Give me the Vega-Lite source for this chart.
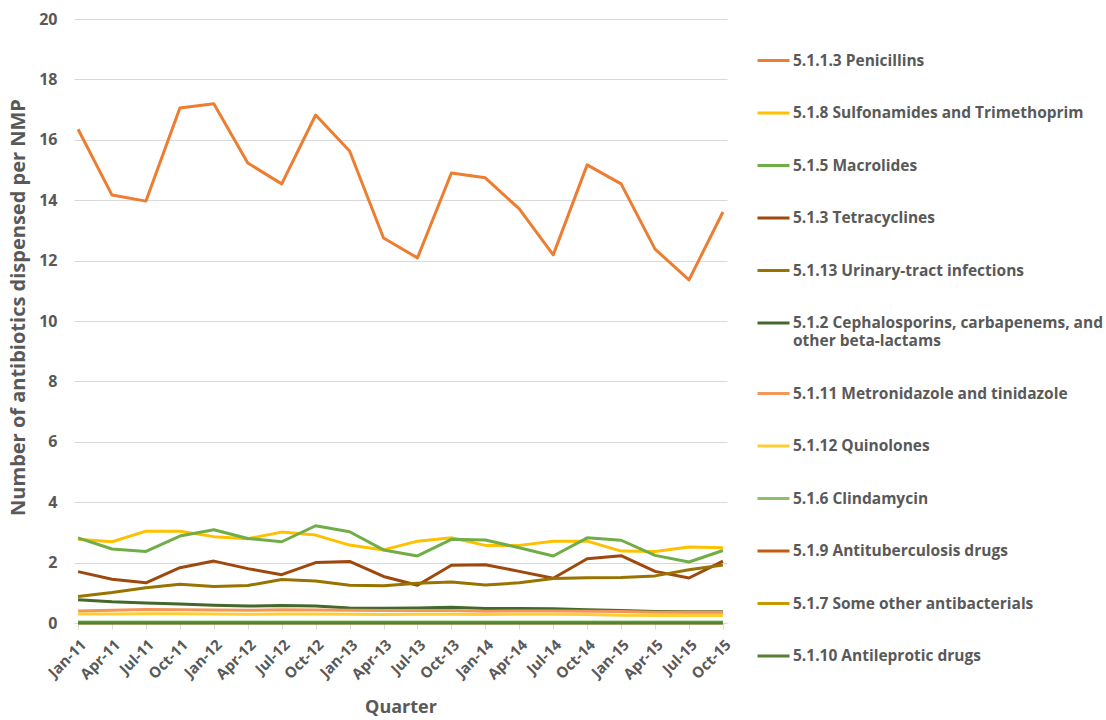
{
 "$schema": "https://vega.github.io/schema/vega-lite/v6.json",
 "width": 653, "height": 604,
 "autosize": "none",
 "padding": {"left": 74, "top": 19, "right": 379, "bottom": 97},
 "background": "white",
 "config": {"font": "Open Sans", "view": {"stroke": null}},
 "datasets": {"d": [
{"q":"Jan-11","s":"5.1.1.3 Penicillins","v":16.35},{"q":"Apr-11","s":"5.1.1.3 Penicillins","v":14.17},{"q":"Jul-11","s":"5.1.1.3 Penicillins","v":13.97},{"q":"Oct-11","s":"5.1.1.3 Penicillins","v":17.05},{"q":"Jan-12","s":"5.1.1.3 Penicillins","v":17.19},{"q":"Apr-12","s":"5.1.1.3 Penicillins","v":15.23},{"q":"Jul-12","s":"5.1.1.3 Penicillins","v":14.54},{"q":"Oct-12","s":"5.1.1.3 Penicillins","v":16.82},{"q":"Jan-13","s":"5.1.1.3 Penicillins","v":15.63},{"q":"Apr-13","s":"5.1.1.3 Penicillins","v":12.75},{"q":"Jul-13","s":"5.1.1.3 Penicillins","v":12.09},{"q":"Oct-13","s":"5.1.1.3 Penicillins","v":14.9},{"q":"Jan-14","s":"5.1.1.3 Penicillins","v":14.74},{"q":"Apr-14","s":"5.1.1.3 Penicillins","v":13.71},{"q":"Jul-14","s":"5.1.1.3 Penicillins","v":12.19},{"q":"Oct-14","s":"5.1.1.3 Penicillins","v":15.17},{"q":"Jan-15","s":"5.1.1.3 Penicillins","v":14.54},{"q":"Apr-15","s":"5.1.1.3 Penicillins","v":12.38},{"q":"Jul-15","s":"5.1.1.3 Penicillins","v":11.36},{"q":"Oct-15","s":"5.1.1.3 Penicillins","v":13.61},
{"q":"Jan-11","s":"5.1.8 Sulfonamides and Trimethoprim","v":2.77},{"q":"Apr-11","s":"5.1.8 Sulfonamides and Trimethoprim","v":2.69},{"q":"Jul-11","s":"5.1.8 Sulfonamides and Trimethoprim","v":3.04},{"q":"Oct-11","s":"5.1.8 Sulfonamides and Trimethoprim","v":3.04},{"q":"Jan-12","s":"5.1.8 Sulfonamides and Trimethoprim","v":2.86},{"q":"Apr-12","s":"5.1.8 Sulfonamides and Trimethoprim","v":2.79},{"q":"Jul-12","s":"5.1.8 Sulfonamides and Trimethoprim","v":3.01},{"q":"Oct-12","s":"5.1.8 Sulfonamides and Trimethoprim","v":2.91},{"q":"Jan-13","s":"5.1.8 Sulfonamides and Trimethoprim","v":2.58},{"q":"Apr-13","s":"5.1.8 Sulfonamides and Trimethoprim","v":2.42},{"q":"Jul-13","s":"5.1.8 Sulfonamides and Trimethoprim","v":2.71},{"q":"Oct-13","s":"5.1.8 Sulfonamides and Trimethoprim","v":2.82},{"q":"Jan-14","s":"5.1.8 Sulfonamides and Trimethoprim","v":2.57},{"q":"Apr-14","s":"5.1.8 Sulfonamides and Trimethoprim","v":2.57},{"q":"Jul-14","s":"5.1.8 Sulfonamides and Trimethoprim","v":2.71},{"q":"Oct-14","s":"5.1.8 Sulfonamides and Trimethoprim","v":2.71},{"q":"Jan-15","s":"5.1.8 Sulfonamides and Trimethoprim","v":2.38},{"q":"Apr-15","s":"5.1.8 Sulfonamides and Trimethoprim","v":2.37},{"q":"Jul-15","s":"5.1.8 Sulfonamides and Trimethoprim","v":2.52},{"q":"Oct-15","s":"5.1.8 Sulfonamides and Trimethoprim","v":2.49},
{"q":"Jan-11","s":"5.1.5 Macrolides","v":2.82},{"q":"Apr-11","s":"5.1.5 Macrolides","v":2.45},{"q":"Jul-11","s":"5.1.5 Macrolides","v":2.37},{"q":"Oct-11","s":"5.1.5 Macrolides","v":2.88},{"q":"Jan-12","s":"5.1.5 Macrolides","v":3.09},{"q":"Apr-12","s":"5.1.5 Macrolides","v":2.8},{"q":"Jul-12","s":"5.1.5 Macrolides","v":2.69},{"q":"Oct-12","s":"5.1.5 Macrolides","v":3.22},{"q":"Jan-13","s":"5.1.5 Macrolides","v":3.02},{"q":"Apr-13","s":"5.1.5 Macrolides","v":2.42},{"q":"Jul-13","s":"5.1.5 Macrolides","v":2.22},{"q":"Oct-13","s":"5.1.5 Macrolides","v":2.77},{"q":"Jan-14","s":"5.1.5 Macrolides","v":2.75},{"q":"Apr-14","s":"5.1.5 Macrolides","v":2.49},{"q":"Jul-14","s":"5.1.5 Macrolides","v":2.22},{"q":"Oct-14","s":"5.1.5 Macrolides","v":2.82},{"q":"Jan-15","s":"5.1.5 Macrolides","v":2.74},{"q":"Apr-15","s":"5.1.5 Macrolides","v":2.24},{"q":"Jul-15","s":"5.1.5 Macrolides","v":2.02},{"q":"Oct-15","s":"5.1.5 Macrolides","v":2.4},
{"q":"Jan-11","s":"5.1.3 Tetracyclines","v":1.7},{"q":"Apr-11","s":"5.1.3 Tetracyclines","v":1.45},{"q":"Jul-11","s":"5.1.3 Tetracyclines","v":1.33},{"q":"Oct-11","s":"5.1.3 Tetracyclines","v":1.83},{"q":"Jan-12","s":"5.1.3 Tetracyclines","v":2.05},{"q":"Apr-12","s":"5.1.3 Tetracyclines","v":1.8},{"q":"Jul-12","s":"5.1.3 Tetracyclines","v":1.6},{"q":"Oct-12","s":"5.1.3 Tetracyclines","v":2.0},{"q":"Jan-13","s":"5.1.3 Tetracyclines","v":2.04},{"q":"Apr-13","s":"5.1.3 Tetracyclines","v":1.54},{"q":"Jul-13","s":"5.1.3 Tetracyclines","v":1.25},{"q":"Oct-13","s":"5.1.3 Tetracyclines","v":1.91},{"q":"Jan-14","s":"5.1.3 Tetracyclines","v":1.93},{"q":"Apr-14","s":"5.1.3 Tetracyclines","v":1.71},{"q":"Jul-14","s":"5.1.3 Tetracyclines","v":1.48},{"q":"Oct-14","s":"5.1.3 Tetracyclines","v":2.13},{"q":"Jan-15","s":"5.1.3 Tetracyclines","v":2.23},{"q":"Apr-15","s":"5.1.3 Tetracyclines","v":1.71},{"q":"Jul-15","s":"5.1.3 Tetracyclines","v":1.49},{"q":"Oct-15","s":"5.1.3 Tetracyclines","v":2.05},
{"q":"Jan-11","s":"5.1.13 Urinary-tract infections","v":0.88},{"q":"Apr-11","s":"5.1.13 Urinary-tract infections","v":1.01},{"q":"Jul-11","s":"5.1.13 Urinary-tract infections","v":1.17},{"q":"Oct-11","s":"5.1.13 Urinary-tract infections","v":1.28},{"q":"Jan-12","s":"5.1.13 Urinary-tract infections","v":1.21},{"q":"Apr-12","s":"5.1.13 Urinary-tract infections","v":1.24},{"q":"Jul-12","s":"5.1.13 Urinary-tract infections","v":1.44},{"q":"Oct-12","s":"5.1.13 Urinary-tract infections","v":1.39},{"q":"Jan-13","s":"5.1.13 Urinary-tract infections","v":1.25},{"q":"Apr-13","s":"5.1.13 Urinary-tract infections","v":1.23},{"q":"Jul-13","s":"5.1.13 Urinary-tract infections","v":1.32},{"q":"Oct-13","s":"5.1.13 Urinary-tract infections","v":1.36},{"q":"Jan-14","s":"5.1.13 Urinary-tract infections","v":1.26},{"q":"Apr-14","s":"5.1.13 Urinary-tract infections","v":1.33},{"q":"Jul-14","s":"5.1.13 Urinary-tract infections","v":1.47},{"q":"Oct-14","s":"5.1.13 Urinary-tract infections","v":1.5},{"q":"Jan-15","s":"5.1.13 Urinary-tract infections","v":1.51},{"q":"Apr-15","s":"5.1.13 Urinary-tract infections","v":1.56},{"q":"Jul-15","s":"5.1.13 Urinary-tract infections","v":1.76},{"q":"Oct-15","s":"5.1.13 Urinary-tract infections","v":1.92},
{"q":"Jan-11","s":"5.1.2 Cephalosporins, carbapenems, and other beta-lactams","v":0.77},{"q":"Apr-11","s":"5.1.2 Cephalosporins, carbapenems, and other beta-lactams","v":0.7},{"q":"Jul-11","s":"5.1.2 Cephalosporins, carbapenems, and other beta-lactams","v":0.66},{"q":"Oct-11","s":"5.1.2 Cephalosporins, carbapenems, and other beta-lactams","v":0.63},{"q":"Jan-12","s":"5.1.2 Cephalosporins, carbapenems, and other beta-lactams","v":0.59},{"q":"Apr-12","s":"5.1.2 Cephalosporins, carbapenems, and other beta-lactams","v":0.56},{"q":"Jul-12","s":"5.1.2 Cephalosporins, carbapenems, and other beta-lactams","v":0.58},{"q":"Oct-12","s":"5.1.2 Cephalosporins, carbapenems, and other beta-lactams","v":0.56},{"q":"Jan-13","s":"5.1.2 Cephalosporins, carbapenems, and other beta-lactams","v":0.5},{"q":"Apr-13","s":"5.1.2 Cephalosporins, carbapenems, and other beta-lactams","v":0.49},{"q":"Jul-13","s":"5.1.2 Cephalosporins, carbapenems, and other beta-lactams","v":0.5},{"q":"Oct-13","s":"5.1.2 Cephalosporins, carbapenems, and other beta-lactams","v":0.52},{"q":"Jan-14","s":"5.1.2 Cephalosporins, carbapenems, and other beta-lactams","v":0.48},{"q":"Apr-14","s":"5.1.2 Cephalosporins, carbapenems, and other beta-lactams","v":0.48},{"q":"Jul-14","s":"5.1.2 Cephalosporins, carbapenems, and other beta-lactams","v":0.47},{"q":"Oct-14","s":"5.1.2 Cephalosporins, carbapenems, and other beta-lactams","v":0.44},{"q":"Jan-15","s":"5.1.2 Cephalosporins, carbapenems, and other beta-lactams","v":0.41},{"q":"Apr-15","s":"5.1.2 Cephalosporins, carbapenems, and other beta-lactams","v":0.38},{"q":"Jul-15","s":"5.1.2 Cephalosporins, carbapenems, and other beta-lactams","v":0.37},{"q":"Oct-15","s":"5.1.2 Cephalosporins, carbapenems, and other beta-lactams","v":0.37},
{"q":"Jan-11","s":"5.1.11 Metronidazole and tinidazole","v":0.4},{"q":"Apr-11","s":"5.1.11 Metronidazole and tinidazole","v":0.42},{"q":"Jul-11","s":"5.1.11 Metronidazole and tinidazole","v":0.45},{"q":"Oct-11","s":"5.1.11 Metronidazole and tinidazole","v":0.44},{"q":"Jan-12","s":"5.1.11 Metronidazole and tinidazole","v":0.43},{"q":"Apr-12","s":"5.1.11 Metronidazole and tinidazole","v":0.42},{"q":"Jul-12","s":"5.1.11 Metronidazole and tinidazole","v":0.44},{"q":"Oct-12","s":"5.1.11 Metronidazole and tinidazole","v":0.43},{"q":"Jan-13","s":"5.1.11 Metronidazole and tinidazole","v":0.42},{"q":"Apr-13","s":"5.1.11 Metronidazole and tinidazole","v":0.41},{"q":"Jul-13","s":"5.1.11 Metronidazole and tinidazole","v":0.41},{"q":"Oct-13","s":"5.1.11 Metronidazole and tinidazole","v":0.41},{"q":"Jan-14","s":"5.1.11 Metronidazole and tinidazole","v":0.39},{"q":"Apr-14","s":"5.1.11 Metronidazole and tinidazole","v":0.4},{"q":"Jul-14","s":"5.1.11 Metronidazole and tinidazole","v":0.4},{"q":"Oct-14","s":"5.1.11 Metronidazole and tinidazole","v":0.39},{"q":"Jan-15","s":"5.1.11 Metronidazole and tinidazole","v":0.38},{"q":"Apr-15","s":"5.1.11 Metronidazole and tinidazole","v":0.36},{"q":"Jul-15","s":"5.1.11 Metronidazole and tinidazole","v":0.36},{"q":"Oct-15","s":"5.1.11 Metronidazole and tinidazole","v":0.36},
{"q":"Jan-11","s":"5.1.12 Quinolones","v":0.3},{"q":"Apr-11","s":"5.1.12 Quinolones","v":0.3},{"q":"Jul-11","s":"5.1.12 Quinolones","v":0.31},{"q":"Oct-11","s":"5.1.12 Quinolones","v":0.31},{"q":"Jan-12","s":"5.1.12 Quinolones","v":0.3},{"q":"Apr-12","s":"5.1.12 Quinolones","v":0.29},{"q":"Jul-12","s":"5.1.12 Quinolones","v":0.3},{"q":"Oct-12","s":"5.1.12 Quinolones","v":0.3},{"q":"Jan-13","s":"5.1.12 Quinolones","v":0.29},{"q":"Apr-13","s":"5.1.12 Quinolones","v":0.28},{"q":"Jul-13","s":"5.1.12 Quinolones","v":0.29},{"q":"Oct-13","s":"5.1.12 Quinolones","v":0.29},{"q":"Jan-14","s":"5.1.12 Quinolones","v":0.28},{"q":"Apr-14","s":"5.1.12 Quinolones","v":0.29},{"q":"Jul-14","s":"5.1.12 Quinolones","v":0.29},{"q":"Oct-14","s":"5.1.12 Quinolones","v":0.28},{"q":"Jan-15","s":"5.1.12 Quinolones","v":0.26},{"q":"Apr-15","s":"5.1.12 Quinolones","v":0.25},{"q":"Jul-15","s":"5.1.12 Quinolones","v":0.25},{"q":"Oct-15","s":"5.1.12 Quinolones","v":0.25},
{"q":"Jan-11","s":"5.1.6 Clindamycin","v":0.03},{"q":"Apr-11","s":"5.1.6 Clindamycin","v":0.03},{"q":"Jul-11","s":"5.1.6 Clindamycin","v":0.03},{"q":"Oct-11","s":"5.1.6 Clindamycin","v":0.03},{"q":"Jan-12","s":"5.1.6 Clindamycin","v":0.03},{"q":"Apr-12","s":"5.1.6 Clindamycin","v":0.03},{"q":"Jul-12","s":"5.1.6 Clindamycin","v":0.03},{"q":"Oct-12","s":"5.1.6 Clindamycin","v":0.03},{"q":"Jan-13","s":"5.1.6 Clindamycin","v":0.03},{"q":"Apr-13","s":"5.1.6 Clindamycin","v":0.03},{"q":"Jul-13","s":"5.1.6 Clindamycin","v":0.03},{"q":"Oct-13","s":"5.1.6 Clindamycin","v":0.03},{"q":"Jan-14","s":"5.1.6 Clindamycin","v":0.03},{"q":"Apr-14","s":"5.1.6 Clindamycin","v":0.03},{"q":"Jul-14","s":"5.1.6 Clindamycin","v":0.03},{"q":"Oct-14","s":"5.1.6 Clindamycin","v":0.03},{"q":"Jan-15","s":"5.1.6 Clindamycin","v":0.03},{"q":"Apr-15","s":"5.1.6 Clindamycin","v":0.03},{"q":"Jul-15","s":"5.1.6 Clindamycin","v":0.03},{"q":"Oct-15","s":"5.1.6 Clindamycin","v":0.03},
{"q":"Jan-11","s":"5.1.9 Antituberculosis drugs","v":0.01},{"q":"Apr-11","s":"5.1.9 Antituberculosis drugs","v":0.01},{"q":"Jul-11","s":"5.1.9 Antituberculosis drugs","v":0.01},{"q":"Oct-11","s":"5.1.9 Antituberculosis drugs","v":0.01},{"q":"Jan-12","s":"5.1.9 Antituberculosis drugs","v":0.01},{"q":"Apr-12","s":"5.1.9 Antituberculosis drugs","v":0.01},{"q":"Jul-12","s":"5.1.9 Antituberculosis drugs","v":0.01},{"q":"Oct-12","s":"5.1.9 Antituberculosis drugs","v":0.01},{"q":"Jan-13","s":"5.1.9 Antituberculosis drugs","v":0.01},{"q":"Apr-13","s":"5.1.9 Antituberculosis drugs","v":0.01},{"q":"Jul-13","s":"5.1.9 Antituberculosis drugs","v":0.01},{"q":"Oct-13","s":"5.1.9 Antituberculosis drugs","v":0.01},{"q":"Jan-14","s":"5.1.9 Antituberculosis drugs","v":0.01},{"q":"Apr-14","s":"5.1.9 Antituberculosis drugs","v":0.01},{"q":"Jul-14","s":"5.1.9 Antituberculosis drugs","v":0.01},{"q":"Oct-14","s":"5.1.9 Antituberculosis drugs","v":0.01},{"q":"Jan-15","s":"5.1.9 Antituberculosis drugs","v":0.01},{"q":"Apr-15","s":"5.1.9 Antituberculosis drugs","v":0.01},{"q":"Jul-15","s":"5.1.9 Antituberculosis drugs","v":0.01},{"q":"Oct-15","s":"5.1.9 Antituberculosis drugs","v":0.01},
{"q":"Jan-11","s":"5.1.7 Some other antibacterials","v":0.01},{"q":"Apr-11","s":"5.1.7 Some other antibacterials","v":0.01},{"q":"Jul-11","s":"5.1.7 Some other antibacterials","v":0.01},{"q":"Oct-11","s":"5.1.7 Some other antibacterials","v":0.01},{"q":"Jan-12","s":"5.1.7 Some other antibacterials","v":0.01},{"q":"Apr-12","s":"5.1.7 Some other antibacterials","v":0.01},{"q":"Jul-12","s":"5.1.7 Some other antibacterials","v":0.01},{"q":"Oct-12","s":"5.1.7 Some other antibacterials","v":0.01},{"q":"Jan-13","s":"5.1.7 Some other antibacterials","v":0.01},{"q":"Apr-13","s":"5.1.7 Some other antibacterials","v":0.01},{"q":"Jul-13","s":"5.1.7 Some other antibacterials","v":0.01},{"q":"Oct-13","s":"5.1.7 Some other antibacterials","v":0.01},{"q":"Jan-14","s":"5.1.7 Some other antibacterials","v":0.01},{"q":"Apr-14","s":"5.1.7 Some other antibacterials","v":0.01},{"q":"Jul-14","s":"5.1.7 Some other antibacterials","v":0.01},{"q":"Oct-14","s":"5.1.7 Some other antibacterials","v":0.01},{"q":"Jan-15","s":"5.1.7 Some other antibacterials","v":0.01},{"q":"Apr-15","s":"5.1.7 Some other antibacterials","v":0.01},{"q":"Jul-15","s":"5.1.7 Some other antibacterials","v":0.01},{"q":"Oct-15","s":"5.1.7 Some other antibacterials","v":0.01},
{"q":"Jan-11","s":"5.1.10 Antileprotic drugs","v":0.0},{"q":"Apr-11","s":"5.1.10 Antileprotic drugs","v":0.0},{"q":"Jul-11","s":"5.1.10 Antileprotic drugs","v":0.0},{"q":"Oct-11","s":"5.1.10 Antileprotic drugs","v":0.0},{"q":"Jan-12","s":"5.1.10 Antileprotic drugs","v":0.0},{"q":"Apr-12","s":"5.1.10 Antileprotic drugs","v":0.0},{"q":"Jul-12","s":"5.1.10 Antileprotic drugs","v":0.0},{"q":"Oct-12","s":"5.1.10 Antileprotic drugs","v":0.0},{"q":"Jan-13","s":"5.1.10 Antileprotic drugs","v":0.0},{"q":"Apr-13","s":"5.1.10 Antileprotic drugs","v":0.0},{"q":"Jul-13","s":"5.1.10 Antileprotic drugs","v":0.0},{"q":"Oct-13","s":"5.1.10 Antileprotic drugs","v":0.0},{"q":"Jan-14","s":"5.1.10 Antileprotic drugs","v":0.0},{"q":"Apr-14","s":"5.1.10 Antileprotic drugs","v":0.0},{"q":"Jul-14","s":"5.1.10 Antileprotic drugs","v":0.0},{"q":"Oct-14","s":"5.1.10 Antileprotic drugs","v":0.0},{"q":"Jan-15","s":"5.1.10 Antileprotic drugs","v":0.0},{"q":"Apr-15","s":"5.1.10 Antileprotic drugs","v":0.0},{"q":"Jul-15","s":"5.1.10 Antileprotic drugs","v":0.0},{"q":"Oct-15","s":"5.1.10 Antileprotic drugs","v":0.0}
 ]},
 "data": {"name": "d"},
 "mark": {"type": "line", "strokeWidth": 3, "strokeJoin": "round", "clip": false},
 "encoding": {
  "x": {"field": "q", "type": "ordinal", "sort": null, "scale": {"type": "point", "padding": 0.12},
   "axis": {"title": "Quarter", "titleFontSize": 18, "titleFontWeight": "bold", "titleColor": "#595959", "titlePadding": 17,
    "labelAngle": -45, "labelFontSize": 15, "labelFontWeight": "bold", "labelColor": "#595959", "labelPadding": 8,
    "domainColor": "#D9D9D9", "tickColor": "#D9D9D9", "tickSize": 6, "grid": false}},
  "y": {"field": "v", "type": "quantitative", "scale": {"domain": [0, 20], "nice": false},
   "axis": {"title": "Number of antibiotics dispensed per NMP", "titleFontSize": 20, "titleFontWeight": "bold", "titleColor": "#595959", "titlePadding": 10, "titleY": 288,
    "values": [0,2,4,6,8,10,12,14,16,18,20], "labelFontSize": 16, "labelFontWeight": "bold", "labelColor": "#595959", "labelPadding": 17,
    "domain": false, "ticks": false, "gridColor": "#D9D9D9", "gridWidth": 1}},
  "color": {"field": "s", "type": "nominal", "sort": null,
   "scale": {"domain": ["5.1.1.3 Penicillins","5.1.8 Sulfonamides and Trimethoprim","5.1.5 Macrolides","5.1.3 Tetracyclines","5.1.13 Urinary-tract infections","5.1.2 Cephalosporins, carbapenems, and other beta-lactams","5.1.11 Metronidazole and tinidazole","5.1.12 Quinolones","5.1.6 Clindamycin","5.1.9 Antituberculosis drugs","5.1.7 Some other antibacterials","5.1.10 Antileprotic drugs"],
    "range": ["#ED7D31","#FFC000","#70AD47","#9E480E","#997300","#43682B","#F1975A","#FFCD33","#8CC168","#C55A11","#C89800","#548235"]},
   "legend": {"title": null, "orient": "none", "legendX": 682, "legendY": 24, "padding": 0,
    "symbolType": "stroke", "symbolSize": 1024, "symbolStrokeWidth": 3, "labelOffset": 2,
    "labelFontSize": 15.5, "labelFontWeight": "bold", "labelColor": "#595959", "labelLimit": 400, "rowPadding": 26.5,
    "labelExpr": "datum.label == '5.1.2 Cephalosporins, carbapenems, and other beta-lactams' ? ['5.1.2 Cephalosporins, carbapenems, and', 'other beta-lactams'] : datum.label"}}
 }
}
